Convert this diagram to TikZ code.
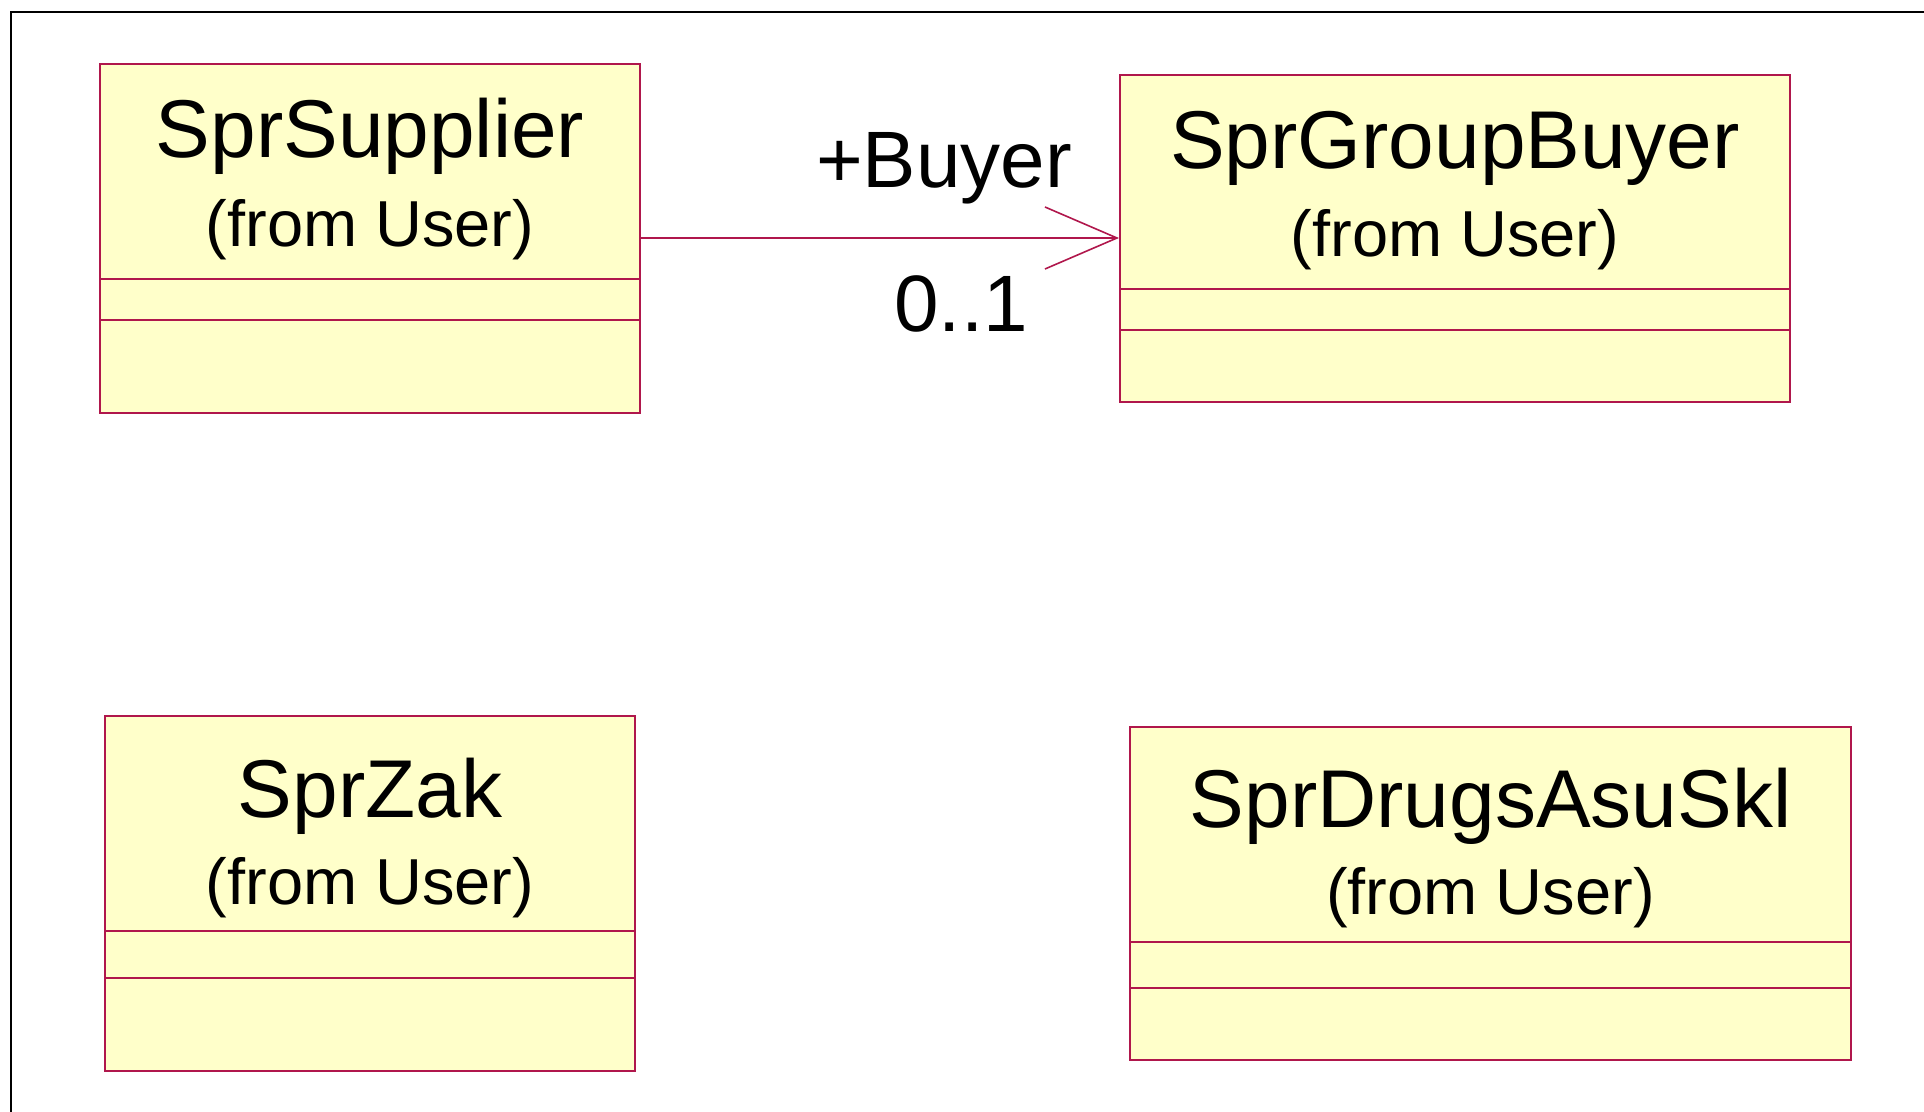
\documentclass[tikz,border=0pt]{standalone}
\usepackage{fontspec}
\setmainfont{Liberation Sans}
\usetikzlibrary{arrows.meta,positioning}
\definecolor{umlfill}{HTML}{FFFFCA}
\definecolor{umlline}{HTML}{B0174C}

\begin{document}
\begin{tikzpicture}[x=0.5pt, y=-0.5pt,
                    classbox/.style = {draw=umlline, fill=umlfill, line width=1pt,
                                       inner sep=0pt, anchor=north west},
                    classname/.style = {anchor=base, inner sep=0pt,
                                        font=\fontsize{41}{48}\selectfont},
                    classfrom/.style = {anchor=base, inner sep=0pt,
                                        font=\fontsize{32.5}{40}\selectfont},
                    classline/.style = {draw=umlline, line width=0.8pt},
                    assoc/.style = {draw=umlline, line width=0.8pt,
                                    -{Straight Barb[length=36pt, width=31pt]}},
                    assoclabel/.style = {anchor=base, inner sep=0pt,
                                         font=\fontsize{40}{47}\selectfont}]
\useasboundingbox (0,0) rectangle (1924,1112);
\draw[line width=1.2pt] (11,1112) -- (11,12) -- (1924,12);
% classes
\node[classbox, minimum width=270pt, minimum height=174.5pt] (supplier) at (99,63) {};
\node[classbox, minimum width=335pt, minimum height=163.5pt] (groupbuyer) at (1119,74) {};
\node[classbox, minimum width=265pt, minimum height=177.5pt] (zak) at (104,715) {};
\node[classbox, minimum width=360.5pt, minimum height=166.5pt] (drugs) at (1129,726) {};
\node[classname] (supplier-name) at (supplier.north |- 0,158) {SprSupplier};
\node[classfrom] (supplier-from) at (supplier.north |- 0,247) {(from User)};
\node[classname] (groupbuyer-name) at (groupbuyer.north |- 0,169) {SprGroupBuyer};
\node[classfrom] (groupbuyer-from) at (groupbuyer.north |- 0,257) {(from User)};
\node[classname] (zak-name) at (zak.north |- 0,817) {SprZak};
\node[classfrom] (zak-from) at (zak.north |- 0,904) {(from User)};
\node[classname] (drugs-name) at (drugs.north |- 0,827) {SprDrugsAsuSkl};
\node[classfrom] (drugs-from) at (drugs.north |- 0,914) {(from User)};
% compartments
\draw[classline] (supplier.west |- 0,279) -- (supplier.east |- 0,279);
\draw[classline] (supplier.west |- 0,320) -- (supplier.east |- 0,320);
\draw[classline] (groupbuyer.west |- 0,289) -- (groupbuyer.east |- 0,289);
\draw[classline] (groupbuyer.west |- 0,330) -- (groupbuyer.east |- 0,330);
\draw[classline] (zak.west |- 0,931) -- (zak.east |- 0,931);
\draw[classline] (zak.west |- 0,978) -- (zak.east |- 0,978);
\draw[classline] (drugs.west |- 0,942) -- (drugs.east |- 0,942);
\draw[classline] (drugs.west |- 0,988) -- (drugs.east |- 0,988);
% association
\draw[assoc] (supplier.east |- 0,238) -- (groupbuyer.west |- 0,238);
\node[assoclabel] (role) at (944,188) {+Buyer};
\node[assoclabel] (mult) at (961,332) {0..1};
\end{tikzpicture}
\end{document}
